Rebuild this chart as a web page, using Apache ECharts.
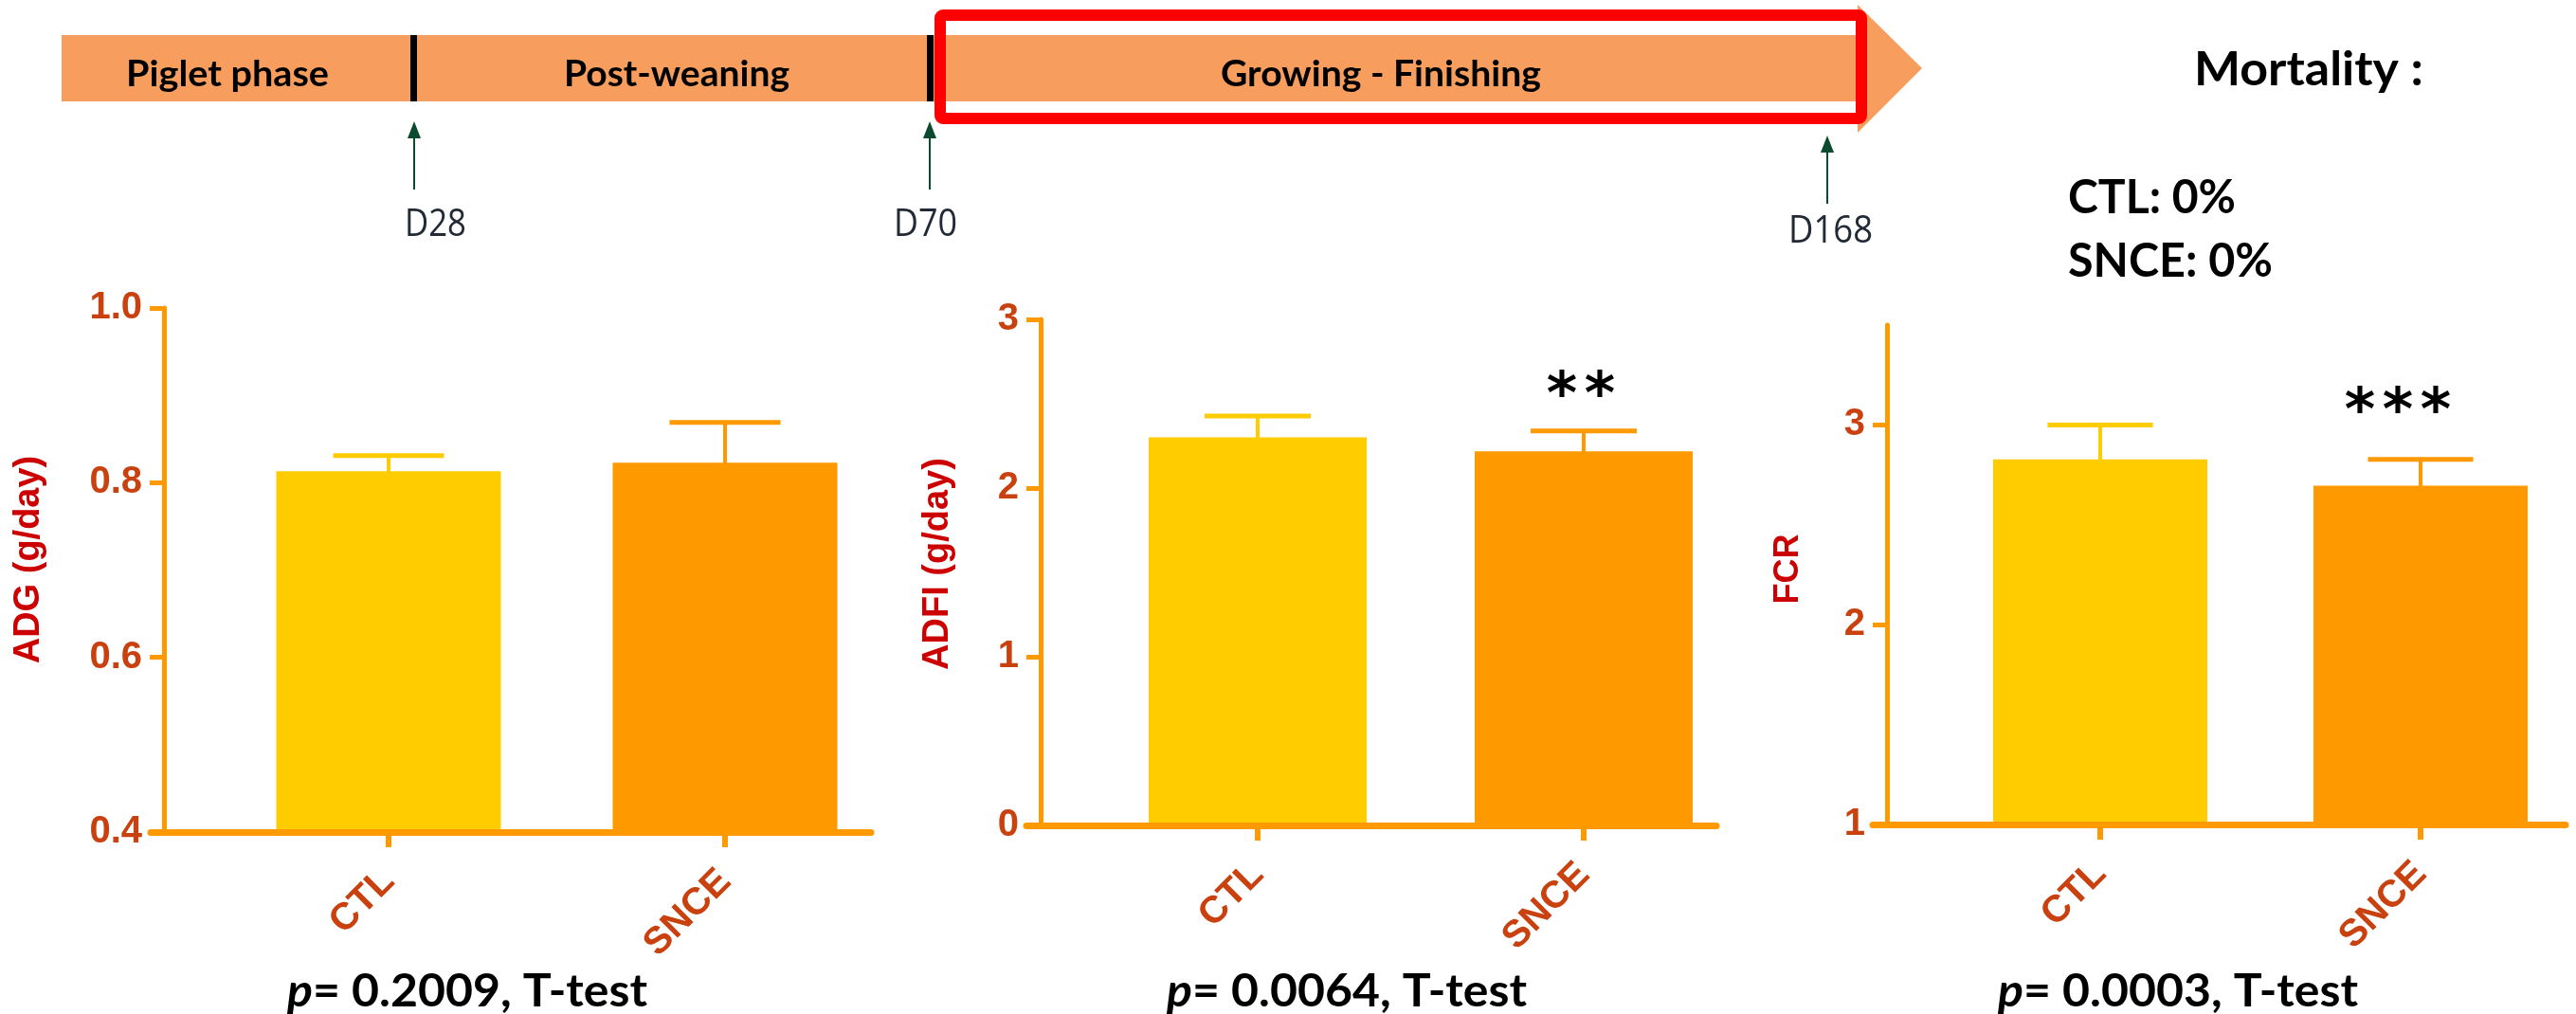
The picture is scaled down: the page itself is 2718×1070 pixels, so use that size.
<!DOCTYPE html>
<html><head><meta charset="utf-8">
<script src="https://cdn.jsdelivr.net/npm/echarts@6/dist/echarts.min.js"></script>
<style>html,body{margin:0;padding:0;background:#fff}#c{width:2718px;height:1070px}</style>
</head><body><div id="c"></div>
<script>
// ---------------- data ----------------
const categories = ['CTL', 'SNCE'];
const adgMean = [0.813, 0.823];
const adgSem = [0.018, 0.046];
const adfiMean = [2.300, 2.218];
const adfiSem = [0.127, 0.120];
const fcrMean = [2.828, 2.696];
const fcrSem = [0.172, 0.132];
const adgTicks = [0.4, 0.6, 0.8, 1.0];
const adfiTicks = [0, 1, 2, 3];
const fcrTicks = [1, 2, 3];
const adgSig = ['', ''];
const adfiSig = ['', '**'];
const fcrSig = ['', '***'];
const yTitles = ['ADG (g/day)', 'ADFI (g/day)', 'FCR'];
const pValues = ['0.2009', '0.0064', '0.0003'];
const phases = ['Piglet phase', 'Post-weaning', 'Growing - Finishing'];
const dayMarks = ['D28', 'D70', 'D168'];
const mortalityTitle = 'Mortality :';
const mortalityLines = ['CTL: 0%', 'SNCE: 0%'];

// ---------------- style / layout ----------------
const BAR_COLORS = ['#FFCC00', '#FF9900'];
const AXIS_COLOR = '#FF9900';
const TICK_COLOR = '#C9410F';
const TITLE_COLOR = '#CC0000';
const ARIAL = '"Liberation Sans", Arial, sans-serif';

const panels = [
  {mean: adgMean, sem: adgSem, ticks: adgTicks, sig: adgSig, title: yTitles[0], min: 0.4, max: 1.0, interval: 0.2, dec: 1,
   gl: 159, gr: 919, top: 325, bot: 878, yx: 173, c1: 410, c2: 765, bw: 237, cw: 117, nameGap: 123, namePad: 22, nameSize: 38, sigOff: 47, sigDx: 0},
  {mean: adfiMean, sem: adfiSem, ticks: adfiTicks, sig: adfiSig, title: yTitles[1], min: 0, max: 3, interval: 1, dec: 0,
   gl: 1083, gr: 1811, top: 337, bot: 871, yx: 1098, c1: 1327, c2: 1671, bw: 230, cw: 112, nameGap: 89, namePad: 18, nameSize: 38, sigOff: 47, sigDx: -3},
  {mean: fcrMean, sem: fcrSem, ticks: fcrTicks, sig: fcrSig, title: yTitles[2], min: 1, max: 3.5, interval: 1, dec: 0,
   gl: 1976, gr: 2707, top: 343, bot: 870, yx: 1991, c1: 2216, c2: 2554, bw: 226, cw: 111, nameGap: 86, namePad: 12, nameSize: 36, sigOff: 60, sigDx: -24}
];

const mctx = document.createElement('canvas').getContext('2d');
function textW(str, font) { mctx.font = font; return mctx.measureText(str).width; }

const grids = [], xAxes = [], yAxes = [], series = [];
panels.forEach((p, i) => {
  const unit = p.c2 - p.c1;
  const xmin = 1 - (p.c1 - p.gl) / unit;
  const xmax = 2 + (p.gr - p.c2) / unit;
  grids.push({left: p.gl, top: p.top, width: p.gr - p.gl, height: p.bot - p.top});
  xAxes.push({
    gridIndex: i, type: 'value', min: xmin, max: xmax, z: 5,
    axisLine: {show: true, onZero: false, lineStyle: {color: AXIS_COLOR, width: 7}},
    axisTick: {show: true, customValues: [1, 2], length: 16, lineStyle: {color: AXIS_COLOR, width: 6}},
    axisLabel: {show: true, customValues: [1, 2], formatter: v => categories[Math.round(v) - 1] || '',
      rotate: 45, margin: 46, color: TICK_COLOR, fontSize: 40, fontWeight: 'bold', fontFamily: ARIAL},
    splitLine: {show: false}
  });
  yAxes.push({
    gridIndex: i, type: 'value', min: p.min, max: p.max, interval: p.interval, offset: -(p.yx - p.gl),
    axisLine: {show: true, onZero: false, lineStyle: {color: AXIS_COLOR, width: 5}},
    axisTick: {show: true, customValues: p.ticks, length: 15, lineStyle: {color: AXIS_COLOR, width: 5}},
    axisLabel: {show: true, customValues: p.ticks, formatter: v => Number(v).toFixed(p.dec), margin: 23,
      color: TICK_COLOR, fontSize: 40, fontWeight: 'bold', fontFamily: ARIAL},
    splitLine: {show: false},
    name: p.title, nameLocation: 'middle', nameGap: p.nameGap, nameRotate: 90,
    nameTextStyle: {color: TITLE_COLOR, fontSize: p.nameSize, fontWeight: 'bold', fontFamily: ARIAL, padding: [0, 0, 0, p.namePad]}
  });
  const barData = p.mean.map((m, k) => [k + 1, m]);
  const errData = p.mean.map((m, k) => [k + 1, m, p.sem[k]]);
  series.push({
    type: 'custom', xAxisIndex: i, yAxisIndex: i, coordinateSystem: 'cartesian2d', z: 2,
    encode: {x: 0, y: 1}, data: barData, clip: false,
    renderItem: (params, api) => {
      const x = api.value(0), y = api.value(1);
      const t = api.coord([x, y]);
      const b = api.coord([x, p.min]);
      return {type: 'rect', shape: {x: t[0] - p.bw / 2, y: t[1], width: p.bw, height: b[1] - t[1] - 3},
        style: {fill: BAR_COLORS[params.dataIndex]}};
    }
  });
  series.push({
    type: 'custom', xAxisIndex: i, yAxisIndex: i, coordinateSystem: 'cartesian2d', z: 3,
    encode: {x: 0, y: 1}, data: errData, clip: false,
    renderItem: (params, api) => {
      const x = api.value(0), m = api.value(1), s = api.value(2);
      const t = api.coord([x, m]);
      const c = api.coord([x, m + s]);
      const col = BAR_COLORS[params.dataIndex];
      const kids = [
        {type: 'line', shape: {x1: t[0], y1: t[1] + 2, x2: c[0], y2: c[1]}, style: {stroke: col, lineWidth: 4}},
        {type: 'line', shape: {x1: c[0] - p.cw / 2, y1: c[1], x2: c[0] + p.cw / 2, y2: c[1]}, style: {stroke: col, lineWidth: 5}}
      ];
      const sig = p.sig[params.dataIndex];
      if (sig) {
        const n = sig.length;
        for (let k = 0; k < n; k++) {
          kids.push({type: 'text', x: c[0] + p.sigDx + (k - (n - 1) / 2) * 40, y: c[1] - p.sigOff + 12,
            style: {text: sig[k], fill: '#000', font: 'bold 62px "DejaVu Sans"', align: 'center', verticalAlign: 'middle',
              textAlign: 'center', textVerticalAlign: 'middle'}});
        }
      }
      return {type: 'group', children: kids};
    }
  });
});

// ---------------- decorative timeline & texts ----------------
const LATO_CAP = 0.7165, OPEN_CAP = 0.714;
function fitText(txt, x, y, targetW, capH, align, family, weight, capRatio, fill) {
  const size = capH / capRatio;
  const font = `${weight} ${size.toFixed(2)}px ${family}`;
  const sx = targetW / textW(txt, font);
  return {type: 'text', x: x, y: y, scaleX: sx, z: 10,
    style: {text: txt, font: font, fill: fill, align: align, verticalAlign: 'middle', textAlign: align, textVerticalAlign: 'middle'}};
}
function pText(val, cx, cy, targetW, capH) {
  const size = capH / LATO_CAP;
  const fi = `italic bold ${size.toFixed(2)}px Lato`, fb = `bold ${size.toFixed(2)}px Lato`;
  const rest = '= ' + val + ', T-test';
  const w = textW('p', fi) + textW(rest, fb);
  return {type: 'text', x: cx, y: cy, scaleX: targetW / w, z: 10,
    style: {text: '{i|p}{b|' + rest + '}', align: 'center', verticalAlign: 'middle', textAlign: 'center', textVerticalAlign: 'middle',
      rich: {i: {font: fi, fill: '#000'}, b: {font: fb, fill: '#000'}}}};
}

const BAND = '#F79D5E', ARROW_C = '#0B4A2E', DCOL = '#222A35';
const els = [];
els.push({type: 'rect', shape: {x: 65, y: 37, width: 1895, height: 70}, style: {fill: BAND}, z: 1});
els.push({type: 'polygon', shape: {points: [[1960, 5], [2028, 72], [1960, 140]]}, style: {fill: BAND}, z: 1});
els.push({type: 'rect', shape: {x: 433, y: 37, width: 7, height: 70}, style: {fill: '#000'}, z: 2});
els.push({type: 'rect', shape: {x: 978, y: 37, width: 7, height: 70}, style: {fill: '#000'}, z: 2});
els.push({type: 'rect', shape: {x: 992, y: 16, width: 972, height: 109, r: 3}, style: {fill: null, stroke: '#FF0000', lineWidth: 12}, z: 3});
[[437, 128, 200], [981, 128, 200], [1928, 143, 215]].forEach(a => {
  els.push({type: 'line', shape: {x1: a[0], y1: a[2], x2: a[0], y2: a[1] + 12}, style: {stroke: ARROW_C, lineWidth: 2}, z: 2});
  els.push({type: 'polygon', shape: {points: [[a[0], a[1]], [a[0] - 7, a[1] + 18], [a[0] + 7, a[1] + 18]]}, style: {fill: ARROW_C}, z: 2});
});
const phasePos = [[240, 214], [714, 238], [1457, 338]];
phases.forEach((t, k) => els.push(fitText(t, phasePos[k][0], 79, phasePos[k][1], 27, 'center', 'Lato', 'bold', LATO_CAP, '#000')));
const dayPos = [[459.5, 238, 65], [976.5, 238, 67], [1931.5, 244.5, 89]];
dayMarks.forEach((t, k) => els.push(fitText(t, dayPos[k][0], dayPos[k][1], dayPos[k][2], 28, 'center', '"Open Sans"', 'normal', OPEN_CAP, DCOL)));
els.push(fitText(mortalityTitle, 2315, 74, 242, 35, 'left', 'Lato', 'bold', LATO_CAP, '#000'));
els.push(fitText(mortalityLines[0], 2182, 209, 177, 35, 'left', 'Lato', 'bold', LATO_CAP, '#000'));
els.push(fitText(mortalityLines[1], 2182, 276, 216, 35, 'left', 'Lato', 'bold', LATO_CAP, '#000'));
const pCenters = [493, 1421, 2298];
pValues.forEach((v, k) => els.push(pText(v, pCenters[k], 1047, 380, 34)));

const chart = echarts.init(document.getElementById('c'), null, {renderer: 'canvas'});
chart.setOption({
  animation: false,
  backgroundColor: '#fff',
  grid: grids, xAxis: xAxes, yAxis: yAxes, series: series,
  graphic: {elements: els}
});
</script></body></html>
